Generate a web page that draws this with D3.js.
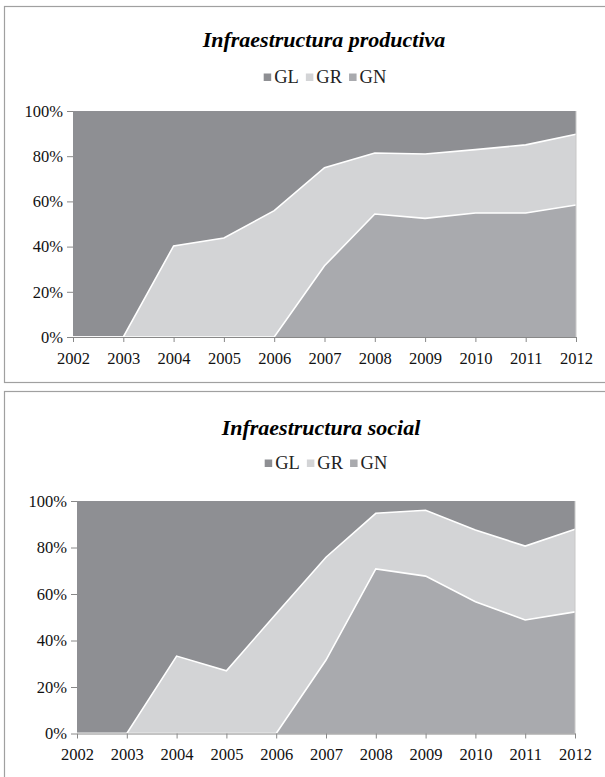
<!DOCTYPE html>
<html><head><meta charset="utf-8">
<script src="https://cdn.jsdelivr.net/npm/d3@7"></script>
<style>
body{margin:0;background:#fff;}
svg{display:block;font-family:"Liberation Serif","DejaVu Serif",serif;}
</style></head>
<body>
<svg id="c" width="605" height="777"></svg>
<script>
const years = [2002,2003,2004,2005,2006,2007,2008,2009,2010,2011,2012];
const seriesKeys = ["GL","GR","GN"];
const yTicks = [0,0.2,0.4,0.6,0.8,1];

// Infraestructura productiva (%)
const prodGN = [0,0,0,0,0,31.5,54.4,52.5,54.9,54.9,58.4];
const prodGR = [0,0,40.3,43.8,55.9,43.4,27.0,28.5,28.0,30.1,31.3];
const prodGL = [100,100,59.7,56.2,44.1,25.1,18.6,19.0,17.1,15.0,10.3];

// Infraestructura social (%)
const socGN = [0,0,0,0,0,31.6,70.8,67.7,56.7,48.8,52.3];
const socGR = [0,0,33.3,27.0,51.5,44.2,23.9,28.3,30.8,31.8,35.5];
const socGL = [100,100,66.7,73.0,48.5,24.2,5.3,4.0,12.5,19.4,12.2];

const colors = {GL:"#8e8f93", GR:"#d3d4d6", GN:"#a9aaae"};
const svg = d3.select("#c");

function drawChart(cfg){
  const g = svg.append("g");
  // box (extends past the right edge, as in the reference)
  g.append("rect").attr("x",cfg.box[0]+0.5).attr("y",cfg.box[1]+0.5)
    .attr("width",cfg.box[2]).attr("height",cfg.box[3])
    .attr("fill","#fff").attr("stroke","#a0a0a0").attr("stroke-width",1.2);
  // title
  g.append("text").attr("x",cfg.titleX).attr("y",cfg.titleY).attr("text-anchor","middle")
    .attr("font-size",22).attr("font-weight","bold").attr("font-style","italic")
    .attr("fill","#000").text(cfg.title);
  // legend
  const leg = g.append("g");
  let lx = 0;
  const items = [];
  seriesKeys.forEach(k=>{
    const it = leg.append("g");
    it.append("rect").attr("x",0).attr("y",-9).attr("width",7.5).attr("height",7.5).attr("fill",colors[k]);
    const t = it.append("text").attr("x",10.5).attr("y",0).attr("font-size",18.5).attr("fill","#222").text(k);
    items.push({it,t});
  });
  items.forEach(o=>{
    o.it.attr("transform",`translate(${lx},0)`);
    lx += 10.5 + o.t.node().getComputedTextLength() + 7;
  });
  lx -= 7;
  leg.attr("transform",`translate(${cfg.legendX - lx/2},${cfg.legendY})`);

  const data = years.map((y,i)=>({year:y, GL:cfg.GL[i], GR:cfg.GR[i], GN:cfg.GN[i]}));
  const stack = d3.stack().keys(["GN","GR","GL"]).offset(d3.stackOffsetExpand);
  const layers = stack(data);

  const x = d3.scaleLinear().domain([years[0],years[years.length-1]]).range([cfg.left,cfg.right]);
  const y = d3.scaleLinear().domain([0,1]).range([cfg.bottom,cfg.top]);

  const area = d3.area().x(d=>x(d.data.year)).y0(d=>y(d[0])).y1(d=>y(d[1]));
  g.selectAll(".layer").data(layers).join("path")
    .attr("d",area).attr("fill",d=>colors[d.key]);
  const line = d3.line().x(d=>x(d.data.year)).y(d=>y(d[1]));
  g.selectAll(".sep").data(layers.slice(0,2)).join("path")
    .attr("d",line).attr("fill","none").attr("stroke","#fff").attr("stroke-width",1.6);
  g.append("line").attr("x1",cfg.right).attr("x2",cfg.right).attr("y1",cfg.top).attr("y2",cfg.bottom)
    .attr("stroke","#c8c8c8").attr("stroke-width",1);

  // y axis
  const ya = g.append("g").attr("transform",`translate(${cfg.left},0)`)
    .call(d3.axisLeft(y).tickValues(yTicks).tickFormat(d3.format(".0%")).tickSize(6).tickPadding(4));
  ya.select(".domain").remove();
  ya.selectAll("line").attr("stroke","#888");
  ya.selectAll("text").attr("font-size",16.5).attr("fill","#111").attr("font-family","Liberation Serif, serif");

  // x axis
  const xa = g.append("g").attr("transform",`translate(0,${cfg.bottom})`)
    .call(d3.axisBottom(x).tickValues(years).tickFormat(d3.format("d")).tickSize(5).tickSizeOuter(0).tickPadding(10));
  xa.select(".domain").attr("stroke","#888");
  xa.selectAll("line").attr("stroke","#888");
  xa.selectAll("text").attr("font-size",16.5).attr("fill","#111").attr("font-family","Liberation Serif, serif");
}

drawChart({title:"Infraestructura productiva", box:[4,6,660,376], titleX:324, titleY:47, legendX:325, legendY:82.5,
  left:73, right:576, top:111, bottom:337, GL:prodGL, GR:prodGR, GN:prodGN});
drawChart({title:"Infraestructura social", box:[4,391,660,420], titleX:321, titleY:435, legendX:326, legendY:468.5,
  left:77, right:575, top:501, bottom:733.5, GL:socGL, GR:socGR, GN:socGN});
</script>
</body></html>
